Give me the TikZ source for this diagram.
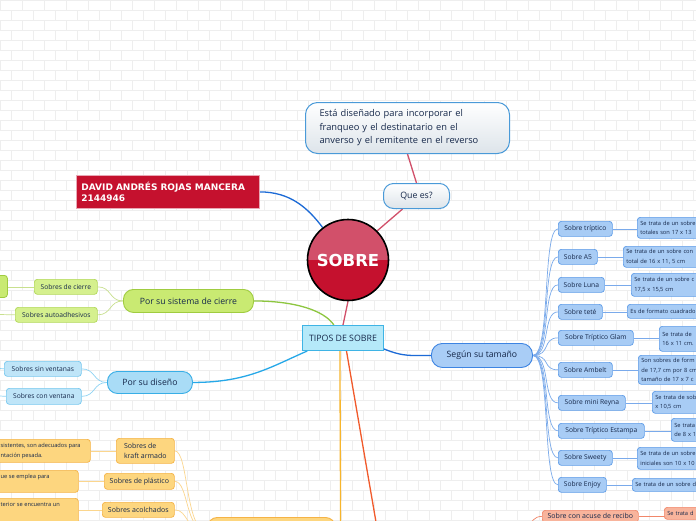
\documentclass[tikz,border=0pt]{standalone}
\usepackage{fontspec}
\setmainfont{Open Sans}
\newfontfamily\djv{DejaVu Sans}
\pgfdeclarelayer{bg}
\pgfsetlayers{bg,main}
\definecolor{txt}{HTML}{16284A}
\definecolor{brick}{HTML}{EEEEEE}
\definecolor{pinkl}{HTML}{D1506A}
\definecolor{crim}{HTML}{C5112E}
\definecolor{crimtop}{HTML}{D2506A}
\definecolor{dblue}{HTML}{1C6AD6}
\definecolor{cyanl}{HTML}{26A8E8}
\definecolor{greenl}{HTML}{8DC63F}
\definecolor{greenc}{HTML}{C8E08E}
\definecolor{yell}{HTML}{F7B52C}
\definecolor{yellc}{HTML}{FBD68E}
\definecolor{redl}{HTML}{F15A2B}
\definecolor{bluec}{HTML}{7AAAEB}
\definecolor{cyanc}{HTML}{8ED3F3}
\definecolor{grayb}{HTML}{4A9AD8}
\definecolor{grayf}{HTML}{DDE4EA}
\definecolor{tipf}{HTML}{B5E9F9}
\definecolor{tipd}{HTML}{3FB4E5}
\definecolor{sisf}{HTML}{C9EA72}
\definecolor{sisd}{HTML}{A0CC40}
\definecolor{cif}{HTML}{D5F08E}
\definecolor{cid}{HTML}{B2D85A}
\definecolor{disf}{HTML}{A9DCF6}
\definecolor{disd}{HTML}{38AEE6}
\definecolor{dicf}{HTML}{BFE5F8}
\definecolor{dicd}{HTML}{77C8EF}
\definecolor{orf}{HTML}{FDD67F}
\definecolor{ord}{HTML}{F5B346}
\definecolor{segf}{HTML}{A9CDF6}
\definecolor{segd}{HTML}{3D84E2}
\definecolor{scf}{HTML}{A8CCF5}
\definecolor{scd}{HTML}{5E9CE8}
\definecolor{acf}{HTML}{F8B49C}
\definecolor{acd}{HTML}{F1876A}
\tikzset{
  nw/.style={anchor=north west, inner sep=0pt, text=txt},
  graybox/.style={nw, draw=grayb, line width=1pt, top color=white, bottom color=grayf, rounded corners=12pt},
  lvl/.style={nw, line width=0.9pt, rounded corners=10pt, font=\fontsize{8.7}{10}\selectfont},
  kid/.style={nw, line width=0.7pt, rounded corners=3pt, font=\fontsize{6.7}{8}\selectfont},
  rdesc/.style={nw, line width=0.7pt, rounded corners=3pt, inner xsep=3pt, text width=140pt, align=left, font=\fontsize{5.7}{9.5}\selectfont},
  ltxt/.style={anchor=north west, inner sep=0pt, align=left, text=txt, font=\fontsize{5.7}{9.5}\selectfont},
  main/.style={line width=1.3pt},
  sub/.style={line width=0.7pt},
}
\begin{document}
\begin{tikzpicture}[x=1pt,y=-1pt]
\useasboundingbox (0,0) rectangle (696,520);
\clip (0,0) rectangle (696,520);
% ---------- nodes ----------
\node[graybox, minimum width=204, minimum height=51, text width=176, align=left,
      font=\fontsize{9.3}{13.5}\selectfont] (top) at (305,102)
  {Está diseñado para incorporar el\\franqueo y el destinatario en el\\anverso y el remitente en el reverso};
\node[graybox, rounded corners=10pt, minimum width=66, minimum height=25, font=\fontsize{8.8}{10}\selectfont] (que) at (383,183) {Que es?};
\node[nw, fill=crim, draw=crimtop!50, line width=0.8pt, minimum width=183, minimum height=33, text width=173, align=left,
      text=white, font=\djv\bfseries\fontsize{9}{11}\selectfont] (dav) at (76,175) {DAVID ANDRÉS ROJAS MANCERA\\2144946};
\node[circle, draw=black, line width=1.6pt, fill=crim, minimum size=81, inner sep=0pt,
      path picture={\fill[crimtop] (path picture bounding box.north west) rectangle (path picture bounding box.east);},
      text=white, font=\djv\bfseries\fontsize{16.5}{18}\selectfont] (sob) at (348,260) {SOBRE};
\node[nw, fill=tipf, draw=tipd, line width=1pt, minimum width=81, minimum height=25, font=\fontsize{8.8}{10}\selectfont] (tip) at (302,325) {TIPOS DE SOBRE};
% green group
\node[lvl, fill=sisf, draw=sisd, minimum width=130, minimum height=23] (sis) at (123,289) {Por su sistema de cierre};
\node[kid, fill=cif, draw=cid, minimum width=63, minimum height=15] (cie) at (34,279) {Sobres de cierre};
\node[kid, fill=cif, draw=cid, minimum width=82, minimum height=15] (aut) at (15,307) {Sobres autoadhesivos};
\node[nw, fill=sisf, draw=sisd, line width=0.8pt, rounded corners=3pt, minimum width=67, minimum height=22] (gcut) at (-60,275) {};
\coordinate (autend) at (0,314.5);
% cyan group
\node[lvl, fill=disf, draw=disd, minimum width=85, minimum height=22] (dis) at (107,371) {Por su diseño};
\node[kid, fill=dicf, draw=dicd, minimum width=77, minimum height=15] (sin) at (4,361) {Sobres sin ventanas};
\node[kid, fill=dicf, draw=dicd, minimum width=75, minimum height=16] (con) at (6,388) {Sobres con ventana};
\coordinate (sinend) at (0,368.5);
\coordinate (conend) at (0,396);
% orange group
\node[kid, fill=orf, draw=ord, minimum width=58, minimum height=25, align=left, font=\fontsize{7}{9.5}\selectfont] (kra) at (116,438) {Sobres de\\kraft armado};
\node[kid, fill=orf, draw=ord, minimum width=70, minimum height=16, font=\fontsize{7}{9}\selectfont] (pla) at (104,473) {Sobres de plástico};
\node[kid, fill=orf, draw=ord, minimum width=72, minimum height=15, font=\fontsize{7}{9}\selectfont] (aco) at (102,502) {Sobres acolchados};
\node[nw, fill=orf, draw=ord, line width=0.7pt, rounded corners=3pt, minimum width=130, minimum height=23] (d1) at (-40,439) {};
\node[ltxt] (d1t) at (0.5,443) {sistentes, son adecuados para\\ntación pesada.};
\node[nw, fill=orf, draw=ord, line width=0.7pt, rounded corners=3pt, minimum width=118, minimum height=22] (d2) at (-40,470) {};
\node[ltxt] (d2t) at (0.5,474) {ue se emplea para};
\node[nw, fill=orf, draw=ord, line width=0.7pt, rounded corners=3pt, minimum width=118, minimum height=30] (d3) at (-40,498) {};
\node[ltxt] (d3t) at (0.5,502) {terior se encuentra un};
\node[nw, fill=orf, draw=ord, line width=0.9pt, rounded corners=10pt, minimum width=128, minimum height=28] (big) at (207,517) {};
\coordinate (yend) at (340.5,522);
\coordinate (rend) at (376,522);
% blue group
\node[lvl, fill=segf, draw=segd, rounded corners=11pt, minimum width=101, minimum height=24] (seg) at (431,343) {Según su tamaño};
\node[kid, fill=scf, draw=scd, minimum width=54, minimum height=15] (s1) at (558,221) {Sobre tríptico};
\node[kid, fill=scf, draw=scd, minimum width=39, minimum height=15] (s2) at (558,249) {Sobre A5};
\node[kid, fill=scf, draw=scd, minimum width=46, minimum height=15] (s3) at (558,277) {Sobre Luna};
\node[kid, fill=scf, draw=scd, minimum width=44, minimum height=15] (s4) at (558,304) {Sobre teté};
\node[kid, fill=scf, draw=scd, minimum width=75, minimum height=15] (s5) at (558,330) {Sobre Tríptico Glam};
\node[kid, fill=scf, draw=scd, minimum width=54, minimum height=15] (s6) at (558,362) {Sobre Ambelt};
\node[kid, fill=scf, draw=scd, minimum width=67, minimum height=15] (s7) at (558,395) {Sobre mini Reyna};
\node[kid, fill=scf, draw=scd, minimum width=86, minimum height=15] (s8) at (558,423) {Sobre Tríptico Estampa};
\node[kid, fill=scf, draw=scd, minimum width=54, minimum height=15] (s9) at (558,450) {Sobre Sweety};
\node[kid, fill=scf, draw=scd, minimum width=48, minimum height=15] (s10) at (558,477) {Sobre Enjoy};
\node[rdesc, fill=scf, draw=scd, minimum height=21] (e1) at (637,217) {Se trata de un sobre\\totales son 17 x 13};
\node[rdesc, fill=scf, draw=scd, minimum height=21] (e2) at (623,246) {Se trata de un sobre con\\total de 16 x 11, 5 cm};
\node[rdesc, fill=scf, draw=scd, minimum height=23] (e3) at (631,273) {Se trata de un sobre c\\17,5 x 15,5 cm};
\node[rdesc, fill=scf, draw=scd, minimum height=14] (e4) at (627,304) {Es de formato cuadrado};
\node[rdesc, fill=scf, draw=scd, minimum height=25] (e5) at (659,326) {Se trata de\\16 x 11 cm.};
\node[rdesc, fill=scf, draw=scd, minimum height=29] (e6) at (638,355) {Son sobres de form\\de 17,7 cm por 8 cm\\tamaño de 17 x 7 c};
\node[rdesc, fill=scf, draw=scd, minimum height=22] (e7) at (652,391) {Se trata de sob\\x 10,5 cm};
\node[rdesc, fill=scf, draw=scd, minimum height=23] (e8) at (671,418) {Se trata\\de 8 x 1};
\node[rdesc, fill=scf, draw=scd, minimum height=22] (e9) at (637,447) {Se trata de un sobre\\iniciales son 10 x 10};
\node[rdesc, fill=scf, draw=scd, minimum height=13] (e10) at (632,478) {Se trata de un sobre d};
% red group
\node[kid, fill=acf, draw=acd, minimum width=96, minimum height=12, font=\fontsize{7}{8}\selectfont] (acu) at (542,510) {Sobre con acuse de recibo};
\node[rdesc, fill=acf, draw=acd, minimum height=12] (ad) at (664,507) {Se trata d};
\fill[acf] (acu.south west) ++(0.5,-1) rectangle ++(95,15);
\coordinate (acend) at (528,526);
% ---------- background and connectors ----------
\begin{pgfonlayer}{bg}
\clip (0,0) rectangle (696,520);
\fill[white] (0,0) rectangle (696,520);
\foreach \k in {0,...,52}{
  \draw[brick, line width=0.5pt] (0,\k*10) -- (696,\k*10);
  \pgfmathsetmacro\off{mod(\k,2)*11}
  \foreach \j in {0,...,32}{ \draw[brick, line width=0.5pt] (\j*22+\off,\k*10) -- ++(0,10); }
}
\draw[pinkl, main] (que.north) -- (top.south);
\draw[pinkl, main] (sob.45) -- (que.223);
\draw[pinkl, main] (sob.south) -- (tip.north);
\draw[dblue, main] (dav.east) .. controls +(30,0) and +(-15,-20) .. (sob.128);
\draw[greenl, main] (sis.east) .. controls +(40,0) and +(-10,-15) .. (tip.125);
\draw[cyanl, main] (dis.east) .. controls +(55,0) and +(-35,15) .. (tip.200);
\draw[dblue, main] (tip.-15) .. controls +(20,8) and +(-20,0) .. (seg.west);
\draw[yell, main] (tip.257) .. controls +(0,60) and +(0,-60) .. (yend);
\draw[redl, main] (tip.-75) -- (rend);
\foreach \c in {cie,aut}{ \draw[greenc, sub] (sis.west) .. controls +(-14,0) and +(14,0) .. (\c.east); }
\draw[greenc, sub] (cie.west) -- (gcut.east |- cie.west);
\draw[greenc, sub] (aut.west) -- (autend);
\foreach \c in {sin,con}{ \draw[cyanc, sub] (dis.west) .. controls +(-14,0) and +(14,0) .. (\c.east); }
\draw[cyanc, sub] (sin.west) -- (sinend);
\draw[cyanc, sub] (con.west) -- (conend);
\foreach \c in {kra,pla,aco}{ \draw[yellc, sub] (big.west) .. controls +(-22,0) and +(14,0) .. (\c.east); }
\draw[yellc, sub] (kra.west) -- (d1.east |- kra.west);
\draw[yellc, sub] (pla.west) -- (d2.east |- pla.west);
\draw[yellc, sub] (aco.west) -- (d3.east |- aco.west);
\foreach \c in {s1,s2,s3,s4,s5,s6,s7,s8,s9,s10}{ \draw[bluec, sub] (seg.east) .. controls +(18,0) and +(-16,0) .. (\c.west); }
\foreach \a/\b in {s1/e1,s2/e2,s3/e3,s4/e4,s5/e5,s6/e6,s7/e7,s8/e8,s9/e9,s10/e10}{ \draw[bluec, sub] (\a.east) -- (\b.west |- \a.east); }
\draw[acd, sub] (acu.west) .. controls +(-8,0) and +(4,-4) .. (acend);
\draw[acd, sub] (acu.east) -- (ad.west |- acu.east);
\end{pgfonlayer}
\end{tikzpicture}
\end{document}
